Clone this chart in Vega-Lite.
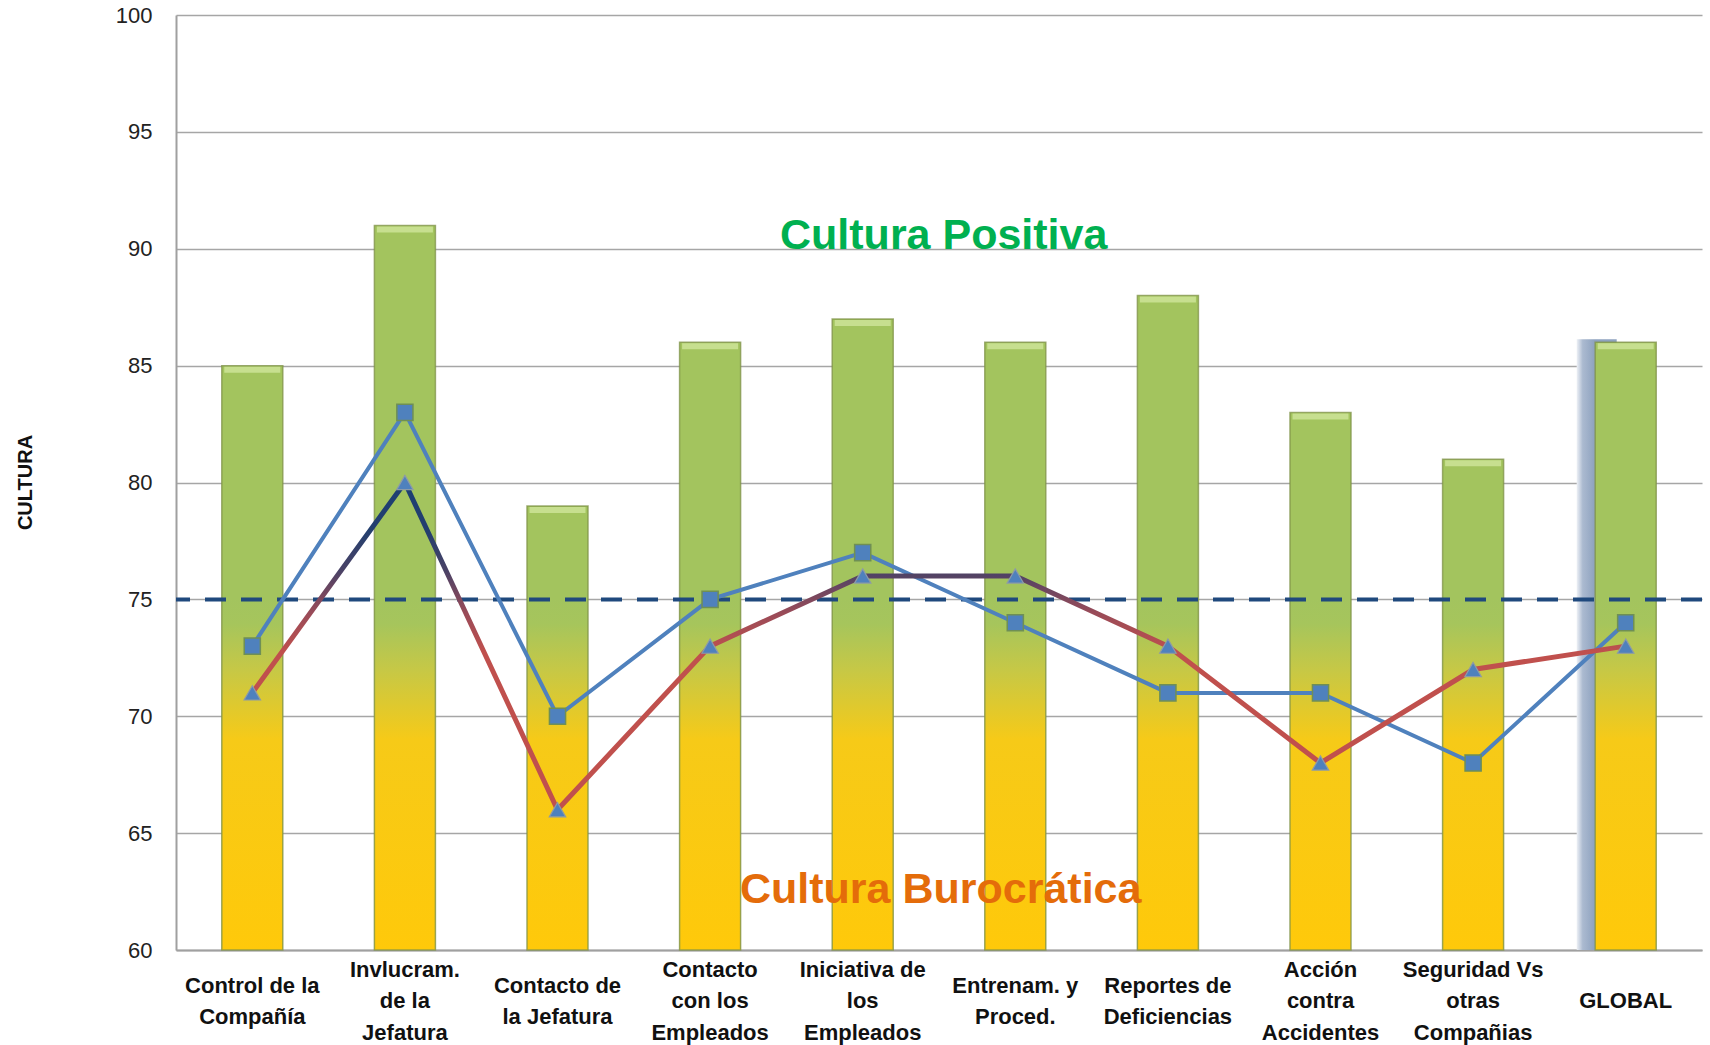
{
  "$schema": "https://vega.github.io/schema/vega-lite/v6.json",
  "width": 1526,
  "height": 935,
  "autosize": {"type": "none"},
  "padding": {"left": 176, "top": 15, "right": 8, "bottom": 95},
  "background": "white",
  "config": {"view": {"stroke": null}, "font": "Liberation Sans"},
  "datasets": {
    "main": [
      {"cat": "Control de la|Compañía", "bar": 85, "s1": 73, "s2": 71},
      {"cat": "Invlucram.|de la|Jefatura", "bar": 91, "s1": 83, "s2": 80},
      {"cat": "Contacto de|la Jefatura", "bar": 79, "s1": 70, "s2": 66},
      {"cat": "Contacto|con los|Empleados", "bar": 86, "s1": 75, "s2": 73},
      {"cat": "Iniciativa de|los|Empleados", "bar": 87, "s1": 77, "s2": 76},
      {"cat": "Entrenam. y|Proced.", "bar": 86, "s1": 74, "s2": 76},
      {"cat": "Reportes de|Deficiencias", "bar": 88, "s1": 71, "s2": 73},
      {"cat": "Acción|contra|Accidentes", "bar": 83, "s1": 71, "s2": 68},
      {"cat": "Seguridad Vs|otras|Compañias", "bar": 81, "s1": 68, "s2": 72},
      {"cat": "GLOBAL", "bar": 86, "s1": 74, "s2": 73}
    ],
    "threshold": [{"ref": 75}],
    "notes": [
      {"text": "Cultura Positiva", "cat": "Iniciativa de|los|Empleados", "v": 90, "kind": "pos"},
      {"text": "Cultura Burocrática", "cat": "Iniciativa de|los|Empleados", "v": 62, "kind": "bur"}
    ]
  },
  "layer": [
    {
      "data": {"name": "main"},
      "transform": [{"filter": "datum.cat == 'GLOBAL'"}],
      "mark": {
        "type": "bar",
        "width": 40,
        "xOffset": -29,
        "yOffset": -3,
        "y2Offset": 0,
        "color": {"gradient": "linear", "x1": 0, "y1": 0, "x2": 1, "y2": 0,
          "stops": [{"offset": 0, "color": "#eef1f6"}, {"offset": 0.15, "color": "#abbad0"}, {"offset": 0.45, "color": "#8ea2bf"}, {"offset": 1, "color": "#8ea2bf"}]}
      },
      "encoding": {
        "x": {"field": "cat", "type": "nominal", "sort": null, "title": null,
          "scale": {"paddingInner": 0.6, "paddingOuter": 0.3,
            "domain": ["Control de la|Compañía", "Invlucram.|de la|Jefatura", "Contacto de|la Jefatura", "Contacto|con los|Empleados", "Iniciativa de|los|Empleados", "Entrenam. y|Proced.", "Reportes de|Deficiencias", "Acción|contra|Accidentes", "Seguridad Vs|otras|Compañias", "GLOBAL"]},
          "axis": {
            "labelExpr": "split(datum.label, '|')",
            "labelFont": "Liberation Sans",
            "labelFontWeight": "bold",
            "labelFontSize": 22,
            "labelLineHeight": 31.5,
            "labelBaseline": "middle",
            "labelPadding": {"condition": [
              {"test": "indexof(datum.value, '|') < 0", "value": 50},
              {"test": "length(split(datum.value, '|')) == 3", "value": 19}
            ], "value": 35},
            "labelAngle": 0,
            "ticks": false,
            "domainColor": "#a0a0a0",
            "domainWidth": 2,
            "labelColor": "#111111",
            "labelOverlap": false,
            "labelBound": false,
            "labelLimit": 0
          }
        },
        "y": {"field": "bar", "type": "quantitative", "title": "CULTURA",
          "scale": {"domain": [60, 100], "nice": false, "zero": false},
          "axis": {
            "values": [60, 65, 70, 75, 80, 85, 90, 95, 100],
            "grid": true,
            "gridColor": "#a6a6a6",
            "gridWidth": 1.5,
            "domainColor": "#a0a0a0",
            "domainWidth": 2,
            "ticks": false,
            "labelPadding": 24,
            "labelFontSize": 22,
            "labelColor": "#222222",
            "labelFont": "Liberation Sans",
            "titleFont": "Liberation Sans",
            "titleFontSize": 20,
            "titleFontWeight": "bold",
            "titleColor": "#111111",
            "titleX": -151,
            "titleY": 467,
            "titleAngle": -90,
            "titleAlign": "center",
            "titleBaseline": "middle"
          }
        },
        "y2": {"datum": 60}
      }
    },
    {
      "data": {"name": "main"},
      "mark": {"type": "bar", "color": "#a3c45e"},
      "encoding": {
        "x": {"field": "cat", "type": "nominal", "sort": null, "title": null},
        "y": {"field": "bar", "type": "quantitative", "title": "CULTURA"},
        "y2": {"datum": 60}
      }
    },
    {
      "data": {"name": "main"},
      "mark": {
        "type": "bar",
        "color": {"gradient": "linear", "x1": 0, "y1": 0, "x2": 0, "y2": 1,
          "stops": [
            {"offset": 0, "color": "#a3c45e"},
            {"offset": 0.07, "color": "#a6c55c"},
            {"offset": 0.2, "color": "#c6c846"},
            {"offset": 0.4, "color": "#f6ca18"},
            {"offset": 1, "color": "#ffc90a"}
          ]}
      },
      "encoding": {
        "x": {"field": "cat", "type": "nominal", "sort": null, "title": null},
        "y": {"datum": 75, "type": "quantitative", "title": "CULTURA"},
        "y2": {"datum": 60}
      }
    },
    {
      "data": {"name": "main"},
      "mark": {"type": "bar", "fill": null, "stroke": "#7f9148", "strokeWidth": 1.5, "strokeOpacity": 0.75},
      "encoding": {
        "x": {"field": "cat", "type": "nominal", "sort": null, "title": null},
        "y": {"field": "bar", "type": "quantitative", "title": "CULTURA"},
        "y2": {"datum": 60}
      }
    },
    {
      "data": {"name": "main"},
      "mark": {"type": "tick", "thickness": 6, "size": 56, "yOffset": 4, "color": "#d6eba4"},
      "encoding": {
        "x": {"field": "cat", "type": "nominal", "sort": null, "title": null},
        "y": {"field": "bar", "type": "quantitative", "title": "CULTURA"}
      }
    },
    {
      "data": {"name": "threshold"},
      "mark": {"type": "rule", "color": "#1f497d", "strokeWidth": 4, "strokeDash": [21, 15]},
      "encoding": {
        "y": {"field": "ref", "type": "quantitative", "title": "CULTURA"}
      }
    },
    {
      "data": {"name": "main"},
      "mark": {"type": "line", "color": "#4f81bd", "strokeWidth": 4},
      "encoding": {
        "x": {"field": "cat", "type": "nominal", "sort": null, "title": null},
        "y": {"field": "s1", "type": "quantitative", "title": "CULTURA"}
      }
    },
    {
      "data": {"name": "main"},
      "mark": {
        "type": "line",
        "strokeWidth": 5,
        "color": {"gradient": "linear", "x1": 0, "y1": 0, "x2": 0, "y2": 1,
          "stops": [
            {"offset": 0, "color": "#1c3f73"},
            {"offset": 0.15, "color": "#243f6e"},
            {"offset": 0.27, "color": "#4a4266"},
            {"offset": 0.4, "color": "#9a4b58"},
            {"offset": 0.52, "color": "#c0504d"},
            {"offset": 1, "color": "#c0504d"}
          ]}
      },
      "encoding": {
        "x": {"field": "cat", "type": "nominal", "sort": null, "title": null},
        "y": {"field": "s2", "type": "quantitative", "title": "CULTURA"}
      }
    },
    {
      "data": {"name": "main"},
      "mark": {"type": "point", "shape": "square", "filled": true, "size": 260, "color": "#4f81bd", "stroke": "#6f8f55", "strokeWidth": 1.5, "opacity": 1},
      "encoding": {
        "x": {"field": "cat", "type": "nominal", "sort": null, "title": null},
        "y": {"field": "s1", "type": "quantitative", "title": "CULTURA"}
      }
    },
    {
      "data": {"name": "main"},
      "mark": {"type": "point", "shape": "triangle-up", "filled": true, "size": 270, "color": "#4f81bd", "stroke": "#8c9aa8", "strokeWidth": 1.2, "opacity": 1},
      "encoding": {
        "x": {"field": "cat", "type": "nominal", "sort": null, "title": null},
        "y": {"field": "s2", "type": "quantitative", "title": "CULTURA"}
      }
    },
    {
      "data": {"name": "notes"},
      "transform": [{"filter": "datum.kind == 'pos'"}],
      "mark": {"type": "text", "font": "Liberation Sans", "fontWeight": "bold", "fontSize": 43, "color": "#00b050", "align": "center", "baseline": "alphabetic", "dx": 81},
      "encoding": {
        "x": {"field": "cat", "type": "nominal", "sort": null, "title": null},
        "y": {"field": "v", "type": "quantitative", "title": "CULTURA"},
        "text": {"field": "text"}
      }
    },
    {
      "data": {"name": "notes"},
      "transform": [{"filter": "datum.kind == 'bur'"}],
      "mark": {"type": "text", "font": "Liberation Sans", "fontWeight": "bold", "fontSize": 43, "color": "#e46c0a", "align": "center", "baseline": "alphabetic", "dx": 78},
      "encoding": {
        "x": {"field": "cat", "type": "nominal", "sort": null, "title": null},
        "y": {"field": "v", "type": "quantitative", "title": "CULTURA"},
        "text": {"field": "text"}
      }
    }
  ]
}
